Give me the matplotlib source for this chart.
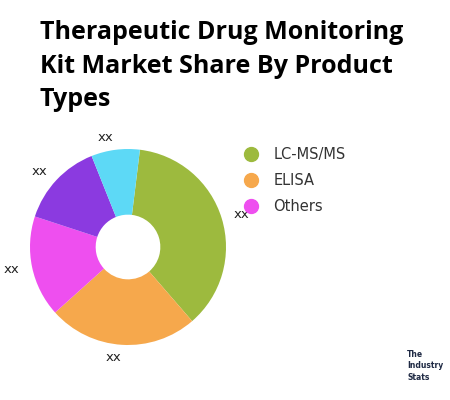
import matplotlib
matplotlib.use("Agg")
import matplotlib.pyplot as plt
from matplotlib.lines import Line2D

categories = ["LC-MS/MS", "ELISA", "Others", "Other2", "Other3"]
values = [36.7, 24.7, 16.7, 13.9, 8.0]
labels = ["xx"] * 5
colors = ["#9DBA3E", "#F6A84C", "#EE4FEF", "#8B3AE0", "#5DD9F6"]
legend_names = ["LC-MS/MS", "ELISA", "Others"]

fig = plt.figure(figsize=(4.5, 4.0), dpi=100)
fig.text(0.088, 0.95, "Therapeutic Drug Monitoring\nKit Market Share By Product\nTypes",
         ha="left", va="top", fontsize=18, fontweight="bold", family="Open Sans",
         linespacing=1.45)

# center (128,247), radius 98 px
ax = fig.add_axes([(128 - 98) / 450, (400 - 247 - 98) / 400, 196 / 450, 196 / 400])
wedges, texts = ax.pie(values, colors=colors, startangle=83, counterclock=False,
                       labels=labels, labeldistance=1.13, radius=1.0,
                       wedgeprops=dict(width=0.67, linewidth=0),
                       textprops=dict(fontsize=9.5, color="#222222"))
ax.set_xlim(-1, 1); ax.set_ylim(-1, 1)
ax.set_aspect("equal")

handles = [Line2D([], [], marker="o", linestyle="", markersize=10, color=c)
           for c in colors[:3]]
fig.legend(handles, legend_names, loc="upper left", bbox_to_anchor=(0.497, 0.665),
           frameon=False, fontsize=10.5, handletextpad=0.5, labelspacing=0.75,
           labelcolor="#333333")

fig.text(0.905, 0.085, "The\nIndustry\nStats", fontsize=5.5, fontweight="bold",
         color="#1f2a44", ha="left", va="center", linespacing=1.3)
fig.savefig("out.png", dpi=100)
